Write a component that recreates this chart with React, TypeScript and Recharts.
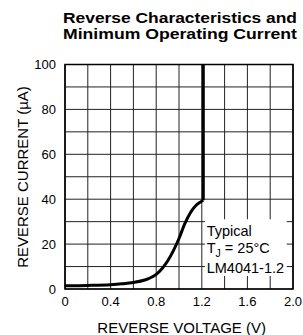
import React from 'react';
import { LineChart, Line, XAxis, YAxis, CartesianGrid, ReferenceArea } from 'recharts';

const curveVoltage = [0, 0.2, 0.4, 0.5, 0.6, 0.7, 0.75, 0.8, 0.85, 0.9, 0.95, 1.0, 1.05, 1.1, 1.15, 1.19, 1.213];
const curveCurrent = [1.5, 1.6, 1.9, 2.3, 2.9, 4.0, 5.0, 6.5, 9.0, 12.5, 17, 22.5, 29, 34, 37.3, 38.8, 39.5];
const breakdownVoltage = [1.213, 1.213];
const breakdownCurrent = [39.5, 100];

const xTickValues = [0, 0.2, 0.4, 0.6, 0.8, 1.0, 1.2, 1.4, 1.6, 1.8, 2.0];
const xTickLabels = ['0', '', '0.4', '', '0.8', '', '1.2', '', '1.6', '', '2.0'];
const yTickValues = [0, 10, 20, 30, 40, 50, 60, 70, 80, 90, 100];
const yTickLabels = ['0', '', '20', '', '40', '', '60', '', '80', '', '100'];

const titleLines = ['Reverse Characteristics and', 'Minimum Operating Current'];
const xLabel = 'REVERSE VOLTAGE (V)';
const yLabel = 'REVERSE CURRENT (µA)';
const noteLines = ['Typical', '= 25°C', 'LM4041-1.2'];

const curveData = curveVoltage.map((v, i) => ({ v, i: curveCurrent[i] }));
const breakdownData = breakdownVoltage.map((v, i) => ({ v, i: breakdownCurrent[i] }));

const FONT = '"Liberation Sans", Arial, Helvetica, sans-serif';

const xFmt = (v: number) => {
  const idx = xTickValues.findIndex((t) => Math.abs(t - v) < 1e-6);
  return idx >= 0 ? xTickLabels[idx] : '';
};
const yFmt = (v: number) => {
  const idx = yTickValues.findIndex((t) => Math.abs(t - v) < 1e-6);
  return idx >= 0 ? yTickLabels[idx] : '';
};

const NoteLabel = (props: any) => {
  const vb = props.viewBox || {};
  const x = (vb.x ?? 0) + 1.7;
  const y = vb.y ?? 0;
  return (
    <g fontFamily={FONT} fontSize={14.5} fill="#000">
      <text x={x} y={y + 17}>{noteLines[0]}</text>
      <text x={x} y={y + 33.5}>
        <tspan>T</tspan>
        <tspan dy={4.5} fontSize={10.5}>J</tspan>
        <tspan dy={-4.5}> {noteLines[1]}</tspan>
      </text>
      <text x={x} y={y + 54.3}>{noteLines[2]}</text>
    </g>
  );
};

export default function App() {
  return (
    <div style={{ position: 'absolute', left: 0, top: 0, width: 303, height: 335, background: '#fff' }}>
      <LineChart
        width={303}
        height={335}
        margin={{ top: 64.5, right: 10, bottom: 0, left: 5 }}
      >
        <CartesianGrid stroke="#222" strokeWidth={1} />
        <XAxis
          dataKey="v"
          type="number"
          domain={[0, 2]}
          ticks={xTickValues}
          interval={0}
          tickFormatter={xFmt}
          tickLine={false}
          axisLine={false}
          tickSize={6}
          tickMargin={2}
          height={46}
          tick={{ fontSize: 13, fill: '#000', fontFamily: FONT }}
          allowDataOverflow
        />
        <YAxis
          dataKey="i"
          type="number"
          domain={[0, 100]}
          ticks={yTickValues}
          interval={0}
          tickFormatter={yFmt}
          tickLine={false}
          axisLine={false}
          tickSize={6}
          tickMargin={3}
          width={60}
          tick={{ fontSize: 13, fill: '#000', fontFamily: FONT }}
          allowDataOverflow
        />
        <ReferenceArea x1={0} x2={2} y1={0} y2={100} fill="none" stroke="#000" strokeWidth={1.6} ifOverflow="visible" />
        <ReferenceArea
          x1={1.228}
          x2={1.945}
          y1={5.8}
          y2={31.1}
          fill="#fff"
          fillOpacity={1}
          stroke="none"
          ifOverflow="visible"
          label={<NoteLabel />}
        />
        <Line
          data={curveData}
          dataKey="i"
          type="monotone"
          stroke="#000"
          strokeWidth={3}
          dot={false}
          isAnimationActive={false}
        />
        <Line
          data={breakdownData}
          dataKey="i"
          type="linear"
          stroke="#000"
          strokeWidth={3}
          dot={false}
          isAnimationActive={false}
        />
      </LineChart>
      <svg
        width={303}
        height={335}
        style={{ position: 'absolute', left: 0, top: 0, pointerEvents: 'none' }}
      >
        <g fontFamily={FONT} fontWeight="bold" fontSize={15} fill="#000">
          <text x={63} y={22.7} textLength={234} lengthAdjust="spacingAndGlyphs">{titleLines[0]}</text>
          <text x={63} y={39.3} textLength={234} lengthAdjust="spacingAndGlyphs">{titleLines[1]}</text>
        </g>
        <text x={181.7} y={333} textAnchor="middle" fontFamily={FONT} fontSize={15} fill="#000">{xLabel}</text>
        <text
          x={0}
          y={0}
          transform="translate(27.5,177) rotate(-90)"
          textAnchor="middle"
          fontFamily={FONT}
          fontSize={15}
          fill="#000"
        >
          {yLabel}
        </text>
      </svg>
    </div>
  );
}
